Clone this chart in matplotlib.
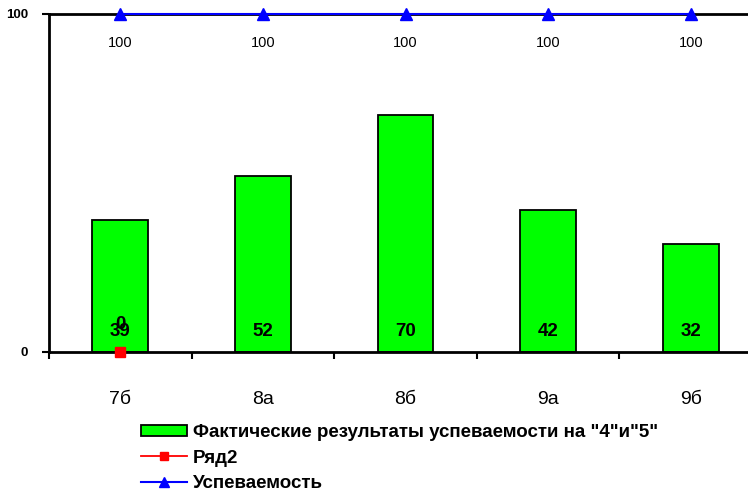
import numpy as np
import matplotlib.pyplot as plt

plt.rcParams['font.family'] = ['Liberation Sans', 'DejaVu Sans']

classes = ["7б", "8а", "8б", "9а", "9б"]
good_marks = [39, 52, 70, 42, 32]
row2 = [0]
success = [100, 100, 100, 100, 100]

fig = plt.figure(figsize=(7.48, 4.92), dpi=100)
ax = fig.add_axes([49 / 748, 140 / 492, 713 / 748, 338 / 492])

x = np.arange(len(classes))
h_bar = ax.bar(x, good_marks, width=0.39, color="#00ff00", edgecolor="black",
               linewidth=1.3, label='Фактические результаты успеваемости на "4"и"5"',
               zorder=2)
h_row2, = ax.plot(x[:len(row2)], row2, color="red", marker="s", markersize=7, lw=1.3,
                  label="Ряд2", zorder=4, clip_on=False)
h_succ, = ax.plot(x, success, color="blue", marker="^", markersize=8, lw=1.5,
                  label="Успеваемость", zorder=4, clip_on=False)

# data labels sit near the bottom of the bars, like the original sheet
for xi, v in zip(x, good_marks):
    ax.text(xi, 6, str(v), ha="center", va="center", fontsize=13.5,
            fontweight="bold", zorder=5)
for xi, v in zip(x, row2):
    ax.text(xi, 8, str(v), ha="center", va="center", fontsize=13.5,
            fontweight="bold", zorder=5)
for xi, v in zip(x, success):
    ax.text(xi, 91.5, str(v), ha="center", va="center", fontsize=10.5, zorder=5)

ax.set_xlim(-0.5, len(classes) - 0.5)
ax.set_ylim(0, 100)
ax.set_yticks([0, 100])
ax.set_yticklabels(["0", "100"], fontweight="bold", fontsize=9.5)
ax.set_xticks(x)
ax.set_xticklabels(classes, fontsize=14)
ax.set_xticks(np.arange(len(classes) + 1) - 0.5, minor=True)
ax.tick_params(axis="x", which="major", length=0, pad=28)
ax.tick_params(axis="x", which="minor", length=5, width=1.5, direction="out")
ax.tick_params(axis="y", length=5, width=1.5, direction="out", pad=10)

for side in ["left", "bottom", "top"]:
    ax.spines[side].set_linewidth(2)
ax.spines["right"].set_visible(False)

fig.legend([h_bar, h_row2, h_succ],
           [h_bar.get_label(), h_row2.get_label(), h_succ.get_label()],
           loc="upper left", bbox_to_anchor=(128 / 748, 1 - 411 / 492),
           frameon=False, prop={"weight": "bold", "size": 13.5},
           handlelength=2.45, handleheight=0.6, handletextpad=0.32,
           labelspacing=0.45, borderpad=0.2, markerscale=0.85)

fig.savefig("out.png", dpi=100)
